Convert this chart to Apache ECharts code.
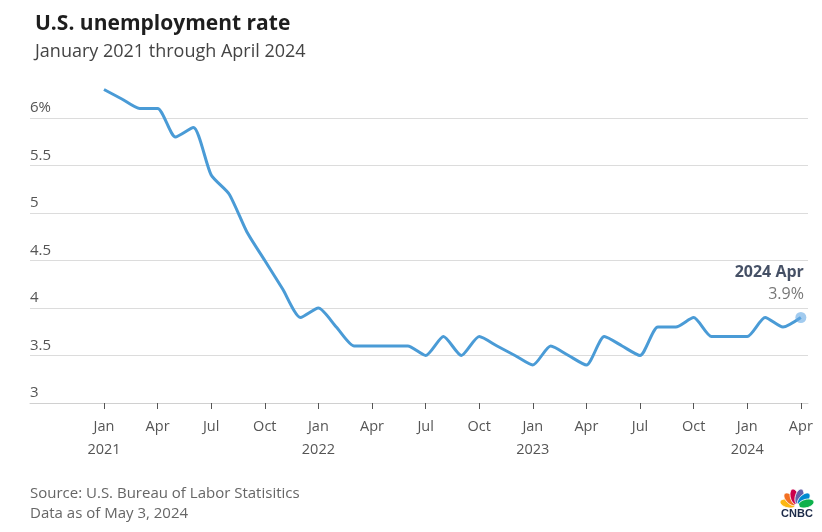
<!DOCTYPE html>
<html>
<head>
<meta charset="utf-8">
<script src="https://cdn.jsdelivr.net/npm/echarts@6/dist/echarts.min.js"></script>
<style>
  html, body { margin: 0; padding: 0; background: #fff; }
  #chart { width: 822px; height: 532px; }
</style>
</head>
<body>
<div id="chart"></div>
<script>
// ---- Data ----
const categories = [
  'Jan 2021','Feb 2021','Mar 2021','Apr 2021','May 2021','Jun 2021','Jul 2021','Aug 2021','Sep 2021','Oct 2021','Nov 2021','Dec 2021',
  'Jan 2022','Feb 2022','Mar 2022','Apr 2022','May 2022','Jun 2022','Jul 2022','Aug 2022','Sep 2022','Oct 2022','Nov 2022','Dec 2022',
  'Jan 2023','Feb 2023','Mar 2023','Apr 2023','May 2023','Jun 2023','Jul 2023','Aug 2023','Sep 2023','Oct 2023','Nov 2023','Dec 2023',
  'Jan 2024','Feb 2024','Mar 2024','Apr 2024'
];
const unemploymentRate = [
  6.3, 6.2, 6.1, 6.1, 5.8, 5.9, 5.4, 5.2, 4.8, 4.5, 4.2, 3.9,
  4.0, 3.8, 3.6, 3.6, 3.6, 3.6, 3.5, 3.7, 3.5, 3.7, 3.6, 3.5,
  3.4, 3.6, 3.5, 3.4, 3.7, 3.6, 3.5, 3.8, 3.8, 3.9, 3.7, 3.7,
  3.7, 3.9, 3.8, 3.9
];
const tickCategories = ['Jan 2021','Apr 2021','Jul 2021','Oct 2021','Jan 2022','Apr 2022','Jul 2022','Oct 2022',
  'Jan 2023','Apr 2023','Jul 2023','Oct 2023','Jan 2024','Apr 2024'];
const tickLabels = ['Jan\n2021','Apr','Jul','Oct','Jan\n2022','Apr','Jul','Oct','Jan\n2023','Apr','Jul','Oct','Jan\n2024','Apr'];
const yTicks = [3, 3.5, 4, 4.5, 5, 5.5, 6];
const yTickLabels = ['3', '3.5', '4', '4.5', '5', '5.5', '6%'];

// ---- Build ----
const FONT = '"Open Sans"';
const lineData = unemploymentRate.map((v, i) => [i, v]);
const tickIdx = tickCategories.map(c => categories.indexOf(c));
const lastI = unemploymentRate.length - 1;
const lastCat = categories[lastI].split(' ');
const endTitle = lastCat[1] + ' ' + lastCat[0];
const endValue = unemploymentRate[lastI] + '%';

const chart = echarts.init(document.getElementById('chart'), null, { renderer: 'canvas' });

const feathers = ['#FCB711', '#F37021', '#CC004C', '#6460AA', '#0089D0', '#0DB14B'];
const logo = feathers.map((c, i) => {
  const ang = (-165 + i * 30) * Math.PI / 180;
  const d = 9.5;
  return {
    type: 'ellipse',
    x: 797 + Math.cos(ang) * d,
    y: 506 + Math.sin(ang) * d,
    rotation: -ang,
    shape: { cx: 0, cy: 0, rx: 8, ry: 4.2 },
    style: { fill: c, stroke: '#fff', lineWidth: 0.8 },
    z: 10
  };
});

const option = {
  backgroundColor: '#fff',
  animation: false,
  title: [
    { text: 'U.S. unemployment rate', left: 30, top: 9,
      textStyle: { fontFamily: FONT, fontSize: 21, fontWeight: 'bold', color: '#1e1e1e' } },
    { text: 'January 2021 through April 2024', left: 30, top: 38,
      textStyle: { fontFamily: FONT, fontSize: 18, fontWeight: 'normal', color: '#444' } }
  ],
  grid: { left: 30, right: 14, top: 80, bottom: 129, containLabel: false },
  xAxis: {
    type: 'value',
    min: -4.14,
    max: 39.4,
    axisLine: { show: true, lineStyle: { color: '#d0d0d0', width: 1 } },
    axisTick: { show: true, customValues: tickIdx, length: 6, lineStyle: { color: '#555', width: 1 } },
    axisLabel: {
      customValues: tickIdx,
      formatter: (v) => { const k = tickIdx.indexOf(Math.round(v)); return k >= 0 ? tickLabels[k] : ''; },
      fontFamily: FONT, fontSize: 14.5, color: '#555', lineHeight: 23, margin: 12
    },
    splitLine: { show: false }
  },
  yAxis: {
    type: 'value',
    min: 3,
    max: 6.4,
    interval: 0.5,
    axisLine: { show: false },
    axisTick: { show: false },
    splitLine: { show: true, showMinLine: false, showMaxLine: false, lineStyle: { color: '#dcdcdc', width: 1 } },
    axisLabel: {
      inside: true,
      margin: 0,
      showMaxLabel: false,
      formatter: (v) => { const k = yTicks.indexOf(v); return k >= 0 ? yTickLabels[k] : ''; },
      fontFamily: FONT, fontSize: 15, color: '#555',
      verticalAlign: 'bottom', lineHeight: 16, padding: [0, 0, 2, 0]
    }
  },
  series: [
    {
      type: 'line',
      data: lineData,
      showSymbol: false,
      smooth: 0.22,
      lineStyle: { color: '#4a9bd6', width: 3 },
      itemStyle: { color: '#4a9bd6' },
      z: 3
    },
    {
      type: 'scatter',
      data: [lineData[lastI]],
      symbol: 'circle',
      symbolSize: 11,
      itemStyle: { color: 'rgba(100,168,228,0.75)' },
      z: 4,
      label: {
        show: true,
        position: 'top',
        align: 'right',
        offset: [3, -2],
        formatter: '{a|' + endTitle + '}\n{b|' + endValue + '}',
        rich: {
          a: { fontFamily: FONT, fontSize: 16, fontWeight: 'bold', color: '#17243f', lineHeight: 22, align: 'right' },
          b: { fontFamily: FONT, fontSize: 16, color: '#555', lineHeight: 22, align: 'right' }
        }
      }
    }
  ],
  graphic: [
    { type: 'text', x: 30, y: 494,
      style: { text: 'Source: U.S. Bureau of Labor Statisitics', font: '15px ' + FONT, fill: '#666', verticalAlign: 'middle', textVerticalAlign: 'middle' } },
    { type: 'text', x: 30, y: 514,
      style: { text: 'Data as of May 3, 2024', font: '15px ' + FONT, fill: '#666', verticalAlign: 'middle', textVerticalAlign: 'middle' } },
    ...logo,
    { type: 'circle', shape: { cx: 797, cy: 506, r: 2.5 }, style: { fill: '#fff' }, z: 11 },
    { type: 'text', x: 797, y: 514,
      style: { text: 'CNBC', font: 'bold 11px "Liberation Sans"', fill: '#1c2a48', align: 'center', textAlign: 'center', verticalAlign: 'middle', textVerticalAlign: 'middle' }, z: 10 }
  ]
};
chart.setOption(option);
</script>
</body>
</html>
